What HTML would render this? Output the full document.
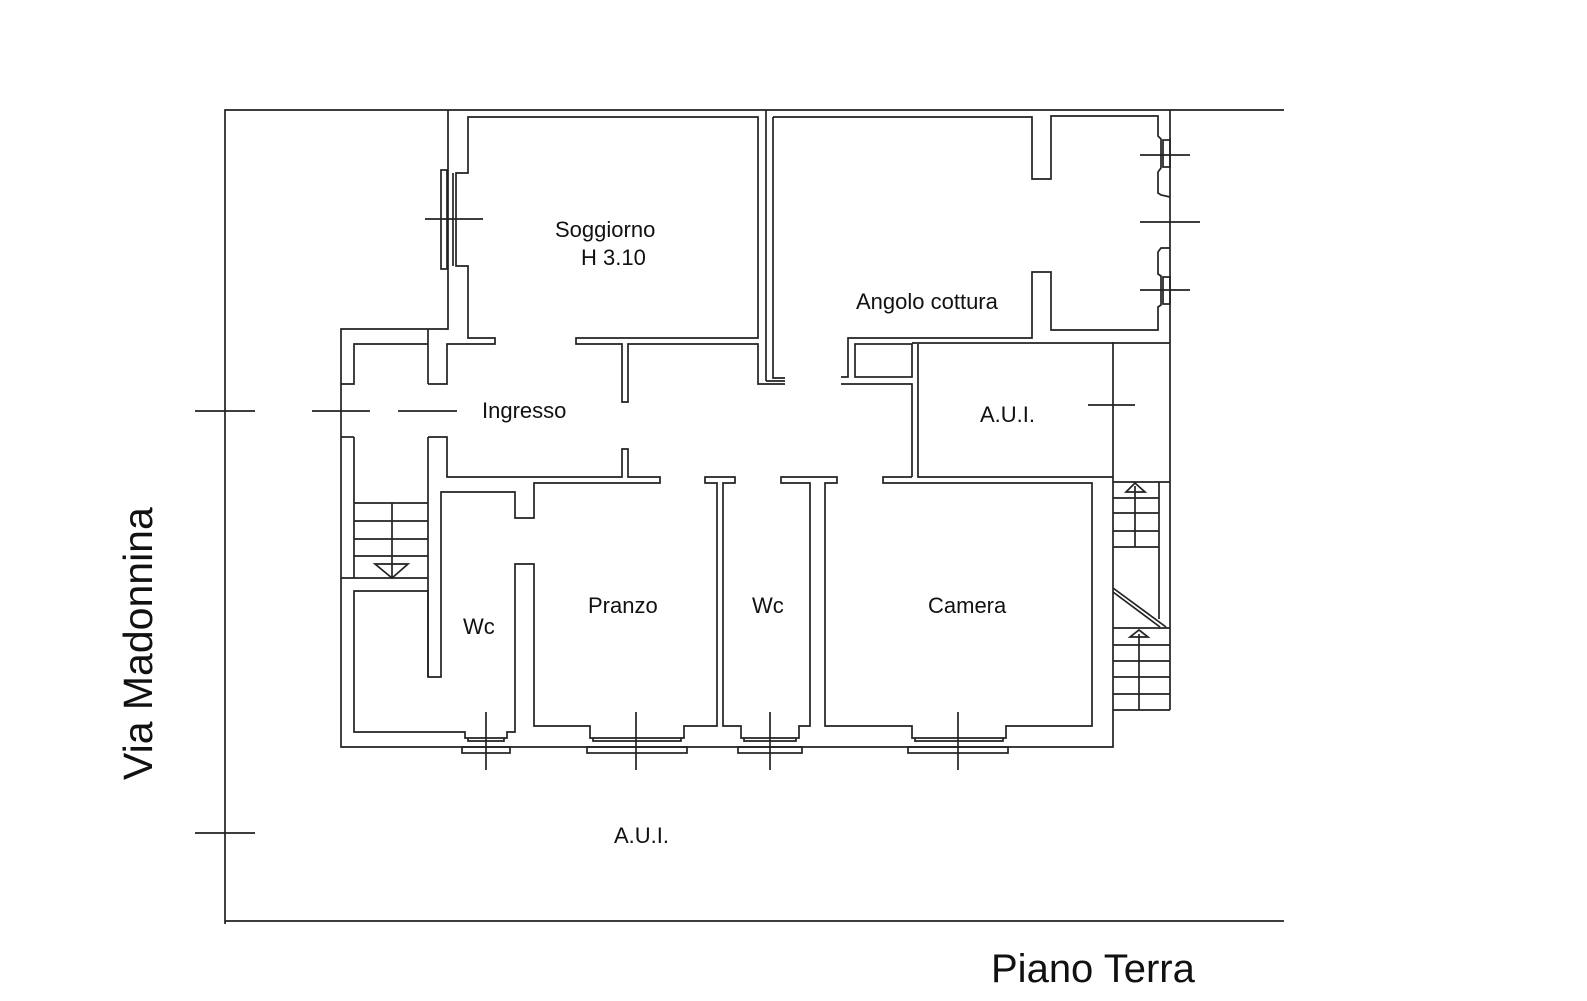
<!DOCTYPE html>
<html><head><meta charset="utf-8"><style>
html,body{margin:0;padding:0;background:#fff;}
svg{display:block;}
text{font-family:"Liberation Sans",Arial,sans-serif;fill:#111;}
</style></head><body>
<svg width="1587" height="1001" viewBox="0 0 1587 1001" xmlns="http://www.w3.org/2000/svg">
<g fill="none" stroke="#222" stroke-width="1.7" stroke-linejoin="miter">
<!-- outer boundary -->
<polyline points="1284,110 225,110 225,924"/>
<line x1="225" y1="921" x2="1284" y2="921"/>
<line x1="195" y1="411" x2="255" y2="411"/>
<line x1="195" y1="833" x2="255" y2="833"/>

<!-- building exterior -->
<polyline points="448,110 448,329 341,329 341,747 1113,747 1113,342"/>
<line x1="1170" y1="110" x2="1170" y2="710"/>
<line x1="428" y1="329" x2="428" y2="384"/>
<polyline points="428,384 447,384 447,344 495,344 495,338 468,338 468,266 456,266 456,173 468,173 468,117 758,117 758,338 576,338 576,344 622,344 622,402 628,402 628,344 758,344 758,384 785,384"/>
<!-- soggiorno window -->
<rect x="441" y="170" width="6" height="99"/>
<line x1="453" y1="173" x2="453" y2="266"/>
<line x1="425" y1="219" x2="483" y2="219"/>
<!-- stair left -->
<polyline points="341,384 354,384 354,344 428,344"/>
<line x1="341" y1="437" x2="354" y2="437"/>
<polyline points="354,437 354,578"/>
<polyline points="428,437 447,437 447,477 622,477 622,449 628,449 628,477 660,477 660,483 534,483 534,518 515,518 515,492 441,492 441,677 428,677 428,437"/>
<line x1="312" y1="411" x2="370" y2="411"/>
<line x1="398" y1="411" x2="457" y2="411"/>
<line x1="354" y1="503" x2="428" y2="503"/>
<line x1="354" y1="521" x2="428" y2="521"/>
<line x1="354" y1="539" x2="428" y2="539"/>
<line x1="354" y1="556" x2="428" y2="556"/>
<line x1="392" y1="503" x2="392" y2="578"/>
<polygon points="375,564 408,564 392,578"/>
<line x1="341" y1="578" x2="428" y2="578"/>
<!-- lower left room -->
<polyline points="428,677 428,591 354,591 354,732 465,732 465,738 507,738 507,732 515,732 515,564 534,564 534,726 590,726 590,738 684,738 684,726 717,726 717,483 705,483 705,477 735,477 735,483 723,483 723,726 741,726 741,738 799,738 799,726 810,726 810,483 781,483 781,477 837,477 837,483 825,483 825,726 912,726 912,738 1006,738 1006,726 1092,726 1092,483 883,483 883,477 912,477"/>
<!-- window sills -->
<g>
<polyline points="468,738 468,741 504,741 504,738"/>
<rect x="462" y="747" width="48" height="6"/>
<line x1="486" y1="712" x2="486" y2="770"/>
<polyline points="593,738 593,741 681,741 681,738"/>
<rect x="587" y="747" width="100" height="6"/>
<line x1="636" y1="712" x2="636" y2="770"/>
<polyline points="744,738 744,741 796,741 796,738"/>
<rect x="738" y="747" width="64" height="6"/>
<line x1="770" y1="712" x2="770" y2="770"/>
<polyline points="915,738 915,741 1003,741 1003,738"/>
<rect x="908" y="747" width="100" height="6"/>
<line x1="958" y1="712" x2="958" y2="770"/>
</g>
<!-- central double walls -->
<line x1="766" y1="110" x2="766" y2="381"/>
<line x1="766" y1="381" x2="785" y2="381"/>
<polyline points="773,117 773,378 785,378"/>
<!-- angolo cottura -->
<polyline points="773,117 1032,117 1032,179 1051,179 1051,116 1158,116 1158,136 1161,139 1161,168 1158,172 1158,193 1161,195 1170,197"/>
<rect x="1163" y="140" width="7" height="27"/>
<line x1="1140" y1="155" x2="1190" y2="155"/>
<line x1="1140" y1="222" x2="1200" y2="222"/>
<polyline points="1170,248 1161,248 1158,252 1158,274 1161,276 1161,305 1158,307 1158,330 1051,330 1051,272 1032,272 1032,338 848,338 848,377 841,377"/>
<rect x="1163" y="277" width="7" height="27"/>
<line x1="1140" y1="290" x2="1190" y2="290"/>
<polyline points="841,384 912,384 912,477"/>
<rect x="855" y="344" width="57" height="33"/>
<line x1="912" y1="343" x2="1170" y2="343"/>
<polyline points="918,344 918,477 1113,477"/>
<line x1="1088" y1="405" x2="1135" y2="405"/>
<!-- right stairs -->
<line x1="1113" y1="482" x2="1170" y2="482"/>
<line x1="1159" y1="482" x2="1159" y2="619"/>
<line x1="1113" y1="498" x2="1159" y2="498"/>
<line x1="1113" y1="513" x2="1159" y2="513"/>
<line x1="1113" y1="531" x2="1159" y2="531"/>
<line x1="1113" y1="547" x2="1159" y2="547"/>
<line x1="1135" y1="486" x2="1135" y2="547"/>
<polygon points="1126,492 1145,492 1135,483"/>
<line x1="1113" y1="588" x2="1166" y2="627"/>
<line x1="1113" y1="592" x2="1160" y2="627"/>
<line x1="1113" y1="628" x2="1170" y2="628"/>
<line x1="1113" y1="645" x2="1170" y2="645"/>
<line x1="1113" y1="661" x2="1170" y2="661"/>
<line x1="1113" y1="677" x2="1170" y2="677"/>
<line x1="1113" y1="694" x2="1170" y2="694"/>
<line x1="1113" y1="710" x2="1170" y2="710"/>
<line x1="1139" y1="634" x2="1139" y2="710"/>
<polygon points="1130,637 1148,637 1139,630"/>
</g>
<g font-size="22">
<text x="555" y="237">Soggiorno</text>
<text x="581" y="265">H 3.10</text>
<text x="482" y="418">Ingresso</text>
<text x="856" y="309">Angolo cottura</text>
<text x="980" y="422">A.U.I.</text>
<text x="463" y="634">Wc</text>
<text x="588" y="613">Pranzo</text>
<text x="752" y="613">Wc</text>
<text x="928" y="613">Camera</text>
<text x="614" y="843">A.U.I.</text>
</g>
<text x="991" y="982" font-size="40">Piano Terra</text>
<text transform="translate(152,780) rotate(-90)" x="0" y="0" font-size="41">Via  Madonnina</text>
</svg>
</body></html>
